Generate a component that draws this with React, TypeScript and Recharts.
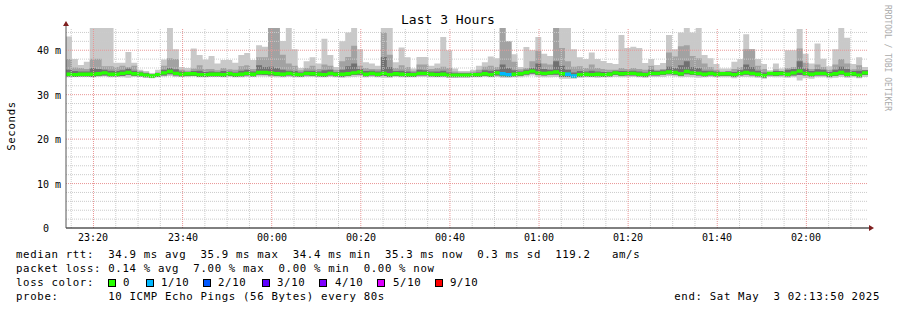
import React from 'react';
import { ComposedChart, Area, XAxis, YAxis, ReferenceLine, ReferenceDot } from 'recharts';

// ---------- data ----------
const START_TIME = '23:13:50';
const STEP_SECONDS = 80;
const timeLabels = ['23:20', '23:40', '00:00', '00:20', '00:40', '01:00', '01:20', '01:40', '02:00'];
const yTicks = [0, 10, 20, 30, 40];
const yTickLabels = ['0\u00a0\u00a0', '10 m', '20 m', '30 m', '40 m'];
const Y_MAX = 45;

// smoke: highest ping (ms)
const maxPing = [
  43.1, 38.0, 36.7, 37.4, 45, 45, 45, 45, 37.2, 37.2,
  39.6, 37.2, 35.6, 35.3, 34.8, 35.6, 37.9, 45, 40.2, 36.2,
  36.0, 40.4, 38.9, 37.9, 38.7, 37.0, 37.8, 37.8, 37.2, 38.9,
  39.4, 37.8, 41.1, 40.8, 45, 45, 42.1, 45, 40.2, 36.0,
  37.5, 38.4, 37.0, 42.6, 38.9, 36.2, 42.0, 44.0, 45, 40.2,
  37.3, 37.0, 36.5, 45, 45, 37.3, 40.6, 38.4, 35.9, 38.5,
  38.5, 36.5, 37.0, 43.0, 40.0, 35.9, 35.3, 35.3, 35.6, 36.5,
  37.3, 38.6, 38.2, 45, 42.0, 39.1, 36.2, 40.7, 40.0, 43.0,
  39.2, 38.7, 45, 45, 45, 40.2, 38.4, 38.0, 39.5, 38.0,
  37.6, 37.1, 36.9, 43.4, 40.5, 40.8, 40.5, 37.1, 38.0, 36.7,
  37.1, 43.4, 40.2, 44.0, 45, 44.0, 45, 38.9, 38.2, 36.9,
  35.9, 35.9, 37.4, 38.0, 43.6, 40.2, 38.0, 36.9, 35.5, 37.0,
  35.9, 40.0, 40.0, 44.8, 39.2, 37.0, 41.5, 38.1, 36.4, 40.2,
  45, 42.8, 36.9, 38.4, 36.2,
];

// smoke: upper edge of the middle (medium gray) pings
const upperMid = [
  38.0, 36.1, 36.0, 35.8, 38.1, 38.1, 36.4, 36.4, 36.2, 36.5,
  36.2, 36.5, 35.3, 35.0, 34.7, 35.0, 36.5, 38.2, 38.0, 35.6,
  35.4, 35.9, 36.6, 35.8, 35.8, 35.5, 36.0, 35.7, 35.6, 36.4,
  36.6, 35.8, 38.4, 38.4, 45, 45, 39.0, 37.0, 36.5, 35.5,
  36.0, 36.5, 35.8, 36.8, 36.5, 35.6, 37.5, 38.5, 41.0, 36.5,
  36.0, 35.8, 35.7, 44.0, 39.0, 36.0, 36.6, 36.2, 35.4, 36.8,
  36.8, 35.8, 36.0, 36.3, 36.0, 35.2, 35.0, 35.0, 35.2, 35.6,
  36.3, 36.5, 36.2, 45, 42.0, 37.4, 35.7, 36.0, 37.5, 39.9,
  37.0, 36.8, 45, 40.5, 37.5, 36.3, 36.4, 36.0, 36.8, 36.0,
  35.8, 35.6, 35.6, 36.0, 35.8, 36.0, 35.8, 35.6, 36.5, 35.6,
  35.8, 39.5, 38.6, 40.9, 41.1, 38.7, 38.2, 37.0, 36.2, 35.6,
  35.2, 35.3, 35.8, 36.2, 40.2, 40.2, 36.5, 35.8, 35.0, 35.7,
  35.3, 36.0, 36.2, 40.4, 37.2, 35.8, 36.8, 36.2, 35.6, 36.8,
  38.0, 37.0, 35.7, 36.6, 35.5,
];

// smoke: upper edge of the pings closest to the median (dark gray)
const upperDark = [
  35.6, 35.3, 35.2, 35.2, 36.0, 35.8, 35.6, 35.4, 35.3, 35.5,
  35.9, 35.4, 35.0, 34.8, 34.5, 34.9, 35.6, 36.0, 35.7, 35.2,
  35.1, 35.3, 35.4, 35.1, 35.2, 35.1, 35.3, 35.2, 35.0, 35.4,
  35.6, 35.2, 36.6, 36.2, 36.3, 36.0, 35.6, 35.4, 35.3, 35.0,
  35.4, 35.4, 35.2, 35.5, 35.6, 35.1, 35.6, 36.4, 37.0, 35.8,
  35.3, 35.4, 35.2, 38.5, 36.2, 35.3, 35.4, 35.2, 35.0, 35.6,
  35.5, 35.2, 35.2, 35.4, 35.0, 34.8, 34.8, 34.8, 34.9, 35.0,
  35.5, 35.4, 35.6, 36.8, 36.0, 35.5, 35.2, 35.6, 36.0, 37.0,
  35.8, 35.6, 37.5, 36.5, 35.6, 35.0, 35.3, 35.2, 35.4, 35.2,
  35.1, 35.1, 35.4, 35.3, 35.3, 35.4, 35.2, 35.0, 35.6, 35.3,
  35.5, 36.3, 36.0, 36.6, 37.5, 36.2, 36.0, 35.4, 35.4, 35.2,
  35.1, 35.2, 35.1, 35.5, 36.8, 36.2, 35.4, 35.0, 34.9, 35.3,
  35.3, 35.6, 35.8, 37.5, 35.9, 35.3, 35.7, 35.6, 35.1, 35.6,
  36.3, 35.8, 35.3, 35.4, 35.5,
];

// median rtt (ms)
const median = [
  34.6, 34.5, 34.6, 34.6, 34.6, 34.7, 34.9, 34.6, 34.6, 34.8,
  35.0, 34.7, 34.6, 34.4, 34.2, 34.5, 34.9, 35.2, 34.8, 34.6,
  34.7, 34.7, 34.5, 34.5, 34.6, 34.6, 34.5, 34.7, 34.5, 34.6,
  34.8, 34.6, 35.0, 35.0, 34.9, 34.7, 34.6, 34.8, 34.6, 34.5,
  34.8, 34.7, 34.6, 34.5, 34.8, 34.6, 34.6, 34.7, 34.9, 35.1,
  34.6, 34.8, 34.6, 34.8, 34.5, 34.7, 34.6, 34.5, 34.5, 34.8,
  34.8, 34.6, 34.5, 34.6, 34.4, 34.4, 34.4, 34.4, 34.5, 34.5,
  34.7, 34.5, 34.9, 34.7, 34.5, 34.6, 34.7, 35.0, 35.3, 34.9,
  34.8, 34.9, 35.1, 34.7, 34.6, 34.2, 34.5, 34.6, 34.5, 34.6,
  34.5, 34.6, 34.9, 34.7, 34.8, 34.8, 34.6, 34.5, 34.8, 34.8,
  34.9, 35.1, 35.0, 34.7, 35.2, 34.9, 34.8, 34.6, 34.8, 34.6,
  34.7, 34.7, 34.5, 34.8, 35.0, 34.8, 34.6, 34.3, 34.8, 34.7,
  34.8, 34.6, 34.9, 35.3, 34.8, 34.6, 34.8, 34.8, 34.5, 34.7,
  35.0, 34.6, 34.7, 34.4, 34.9,
];

// smoke: lower edge of the middle pings
const lowerMid = [
  34.1, 34.0, 34.1, 34.1, 34.0, 34.2, 34.3, 34.1, 34.1, 34.2,
  34.4, 34.2, 34.1, 33.9, 33.8, 34.0, 34.3, 34.6, 34.3, 34.1,
  34.2, 34.2, 34.0, 34.0, 34.1, 34.1, 34.0, 34.2, 34.0, 34.1,
  34.3, 34.1, 34.5, 34.4, 34.3, 34.2, 34.1, 34.3, 34.1, 34.0,
  34.3, 34.2, 34.1, 34.0, 34.3, 34.1, 34.0, 34.2, 34.4, 34.5,
  34.1, 34.3, 34.1, 34.2, 34.0, 34.2, 34.1, 34.0, 34.0, 34.3,
  34.3, 34.1, 34.0, 34.1, 33.9, 33.9, 33.9, 33.9, 34.0, 34.0,
  34.2, 34.0, 34.3, 34.1, 34.0, 34.1, 34.2, 34.5, 34.7, 34.4,
  34.3, 34.4, 34.5, 34.0, 34.0, 33.8, 34.0, 34.1, 34.0, 34.1,
  34.0, 34.1, 34.4, 34.2, 34.3, 34.3, 34.1, 34.0, 34.3, 34.3,
  34.4, 34.6, 34.5, 34.2, 34.6, 34.4, 34.3, 34.1, 34.3, 34.1,
  34.2, 34.2, 34.0, 34.3, 34.5, 34.3, 34.1, 33.8, 34.3, 34.2,
  34.3, 34.1, 34.3, 34.4, 34.3, 34.1, 34.3, 34.3, 34.0, 34.2,
  34.5, 34.1, 34.2, 33.9, 34.4,
];

// smoke: lowest ping (ms)
const minPing = [
  33.9, 34.0, 34.0, 34.0, 33.9, 34.0, 34.1, 33.9, 34.0, 33.9,
  33.8, 34.0, 34.0, 33.8, 33.7, 33.9, 34.1, 34.2, 34.0, 34.0,
  34.0, 34.1, 33.9, 33.9, 34.0, 34.0, 33.9, 34.0, 33.9, 33.9,
  34.0, 34.0, 34.1, 34.1, 34.0, 33.9, 33.9, 34.0, 33.9, 33.9,
  34.0, 34.0, 33.9, 33.9, 34.0, 33.9, 33.8, 33.9, 34.0, 34.1,
  33.9, 34.0, 33.9, 33.8, 33.8, 34.0, 33.9, 33.9, 33.9, 34.0,
  34.0, 33.9, 33.9, 33.9, 33.8, 33.8, 33.9, 33.9, 33.9, 33.9,
  34.0, 33.9, 34.0, 33.8, 33.8, 33.9, 33.9, 34.1, 34.3, 34.0,
  33.9, 33.9, 34.0, 33.6, 33.6, 33.6, 33.8, 33.9, 33.9, 33.8,
  33.9, 33.9, 34.0, 33.9, 33.9, 34.0, 33.9, 33.8, 34.0, 34.0,
  34.0, 34.2, 34.1, 33.9, 34.0, 33.9, 33.8, 33.9, 34.0, 33.9,
  33.9, 33.9, 33.7, 34.0, 34.0, 33.9, 33.8, 33.6, 34.0, 33.9,
  33.9, 33.8, 33.9, 33.2, 33.7, 33.6, 33.9, 33.9, 33.7, 33.8,
  34.0, 33.8, 33.9, 33.7, 34.0,
];

// packet loss (lost pings out of 10) at the steps where it was non-zero
const lossSteps = [73, 74, 84, 85];
const lossCounts = [1, 1, 1, 1];

const lossLevelColors = ['#26ff00', '#00b8ff', '#0059ff', '#5e00ff', '#7e00ff', '#dd00ff', '#ff0000'];
const lossLevelLabels = ['0', '1/10', '2/10', '3/10', '4/10', '5/10', '9/10'];

const statsRtt = ['34.9 ms avg', '35.9 ms max', '34.4 ms min', '35.3 ms now', '0.3 ms sd', '119.2', 'am/s'];
const statsLoss = ['0.14 % avg', '7.00 % max', '0.00 % min', '0.00 % now'];
const probeText = '10 ICMP Echo Pings (56 Bytes) every 80s';
const endText = 'end: Sat May  3 02:13:50 2025';
const titleText = 'Last 3 Hours';
const yAxisTitle = 'Seconds';
const watermark = 'RRDTOOL / TOBI OETIKER';

// ---------- derived ----------
const W = 897;
const H = 310;
const MED_HALF = 0.38; // half thickness of the median band (ms)
const MONO = '"DejaVu Sans Mono", "Liberation Mono", monospace';

const toSec = (s: string) => {
  const p = s.split(':').map(Number);
  return p[0] * 3600 + p[1] * 60 + (p[2] || 0);
};
const startSec = toSec(START_TIME);
const minutesFromStart = (label: string) =>
  ((((toSec(label) - startSec) % 86400) + 86400) % 86400) / 60;

const n = median.length;
const totalMinutes = (n * STEP_SECONDS) / 60;
const majorX = timeLabels.map(minutesFromStart);
const minorX: number[] = [];
for (let v = majorX[0] % 5; v < totalMinutes; v += 5) {
  if (!majorX.some((m) => Math.abs(m - v) < 1e-6)) minorX.push(v);
}
const minorY: number[] = [];
for (let v = 2; v < Y_MAX; v += 2) if (v % 10 !== 0) minorY.push(v);
const majorY = yTicks.filter((v) => v > 0);

const lossKeys = Array.from(new Set(lossCounts)).map((c) => `loss${c}`);

const rows: any[] = Array.from({ length: n + 1 }, (_, i) => {
  const j = Math.min(i, n - 1);
  const row: any = {
    t: (i * STEP_SECONDS) / 60,
    light: [minPing[j], maxPing[j]],
    mid: [lowerMid[j], upperMid[j]],
    dark: [lowerMid[j], upperDark[j]],
    med: [median[j] - MED_HALF, median[j] + MED_HALF],
  };
  lossKeys.forEach((k) => (row[k] = null));
  return row;
});
lossSteps.forEach((s, k) => {
  const key = `loss${lossCounts[k]}`;
  [s, s + 1].forEach((i) => {
    if (i <= n) rows[i][key] = rows[i].med;
  });
});

const line1 =
  'median rtt:  ' + statsRtt.slice(0, 5).join('  ') + '  ' + statsRtt[5] + '   ' + statsRtt[6];
const line2 = 'packet loss: ' + statsLoss.join('  ');
const line4 = 'probe:       ' + probeText;

const XTick = (props: any) => {
  const { x, y, payload } = props;
  const idx = majorX.findIndex((m) => Math.abs(m - payload.value) < 1e-6);
  return (
    <text x={Math.round(x)} y={Math.round(y) + 5} textAnchor="middle" fontFamily={MONO} fontSize={10} style={{ fill: '#000' }}>
      {idx >= 0 ? timeLabels[idx] : ''}
    </text>
  );
};

const YTick = (props: any) => {
  const { x, y, payload } = props;
  const idx = yTicks.indexOf(payload.value);
  return (
    <text x={Math.round(x) + 1} y={Math.round(y) + 4} textAnchor="end" fontFamily={MONO} fontSize={10} style={{ fill: '#000' }}>
      {idx >= 0 ? yTickLabels[idx] : ''}
    </text>
  );
};

const ArrowUp = (props: any) => {
  const { cx, cy } = props;
  return (
    <g>
      <line x1={cx} y1={cy} x2={cx} y2={cy - 4} stroke="#555" strokeWidth={1} />
      <polygon points={`${cx - 3},${cy - 2} ${cx + 3},${cy - 2} ${cx},${cy - 7}`} fill="#7f1f1f" />
    </g>
  );
};
const ArrowRight = (props: any) => {
  const { cx, cy } = props;
  return (
    <g>
      <line x1={cx} y1={cy} x2={cx + 2} y2={cy} stroke="#000" strokeWidth={1} />
      <polygon points={`${cx + 1},${cy - 3} ${cx + 1},${cy + 3} ${cx + 6},${cy}`} fill="#7f1f1f" />
    </g>
  );
};

const legendBoxX = [108, 146, 203, 262, 319, 377, 435];
const legendLabelX = [123, 161, 218, 277, 335, 393, 450];

const txt = (x: number, y: number, s: string, extra: any = {}) => (
  <text
    x={x}
    y={y}
    fontFamily={MONO}
    fontSize={10.7}
    letterSpacing={0.66}
    style={{ whiteSpace: 'pre', fill: '#000' }}
    {...extra}
  >
    {s}
  </text>
);

export default function App() {
  return (
    <div style={{ position: 'absolute', left: 0, top: 0, width: W, height: H, background: '#fff' }}>
      <ComposedChart
        width={W}
        height={H}
        data={rows}
        margin={{ top: 28, right: 29, bottom: 62, left: 0 }}
      >
        <XAxis
          dataKey="t"
          type="number"
          domain={[0, totalMinutes]}
          ticks={majorX}
          interval={0}
          height={20}
          tickLine={false}
          axisLine={{ stroke: '#000', strokeWidth: 1 }}
          tick={<XTick />}
          allowDataOverflow
        />
        <YAxis
          type="number"
          domain={[0, Y_MAX]}
          ticks={yTicks}
          interval={0}
          width={66}
          tickLine={false}
          tickSize={4}
          tickMargin={2}
          axisLine={{ stroke: '#555', strokeWidth: 1 }}
          tick={<YTick />}
          allowDataOverflow
        />
        <Area type="stepAfter" dataKey="light" stroke="none" fill="#c9c9c9" fillOpacity={1} isAnimationActive={false} dot={false} activeDot={false} />
        <Area type="stepAfter" dataKey="mid" stroke="none" fill="#a2a2a2" fillOpacity={1} isAnimationActive={false} dot={false} activeDot={false} />
        <Area type="stepAfter" dataKey="dark" stroke="none" fill="#707070" fillOpacity={1} isAnimationActive={false} dot={false} activeDot={false} />
        <Area type="stepAfter" dataKey="med" stroke="none" fill={lossLevelColors[0]} fillOpacity={1} isAnimationActive={false} dot={false} activeDot={false} />
        {lossKeys.map((k) => (
          <Area
            key={k}
            type="stepAfter"
            dataKey={k}
            stroke="none"
            fill={lossLevelColors[Number(k.replace('loss', ''))]}
            fillOpacity={1}
            connectNulls={false}
            isAnimationActive={false}
            dot={false}
            activeDot={false}
          />
        ))}
        {minorY.map((v) => (
          <ReferenceLine key={`my${v}`} y={v} stroke="#cbcbcb" strokeDasharray="1 1" />
        ))}
        {minorX.map((v) => (
          <ReferenceLine key={`mx${v}`} x={v} stroke="#cbcbcb" strokeDasharray="1 1" />
        ))}
        {majorY.map((v) => (
          <ReferenceLine key={`My${v}`} y={v} stroke="#e99696" strokeDasharray="1 1" />
        ))}
        {majorX.map((v) => (
          <ReferenceLine key={`Mx${v}`} x={v} stroke="#e99696" strokeDasharray="1 1" />
        ))}
        <ReferenceDot x={0} y={Y_MAX} r={0} ifOverflow="visible" shape={<ArrowUp />} />
        <ReferenceDot x={totalMinutes} y={0} r={0} ifOverflow="visible" shape={<ArrowRight />} />
      </ComposedChart>
      <svg
        width={W}
        height={H}
        style={{ position: 'absolute', left: 0, top: 0, pointerEvents: 'none' }}
      >
        <text x={448} y={24} textAnchor="middle" fontFamily={MONO} fontSize={13} style={{ fill: '#000' }}>
          {titleText}
        </text>
        <text
          x={15}
          y={126}
          textAnchor="middle"
          transform="rotate(-90 15 126)"
          fontFamily={MONO}
          fontSize={10.7}
          letterSpacing={0.66}
          style={{ fill: '#000' }}
        >
          {yAxisTitle}
        </text>
        <text
          x={885}
          y={5}
          transform="rotate(90 885 5)"
          fontFamily={MONO}
          fontSize={8}
          style={{ fill: '#aaaaaa' }}
        >
          {watermark}
        </text>

        {txt(16, 258, line1)}
        {txt(16, 272, line2)}

        {txt(16, 286, 'loss color:')}
        {lossLevelLabels.map((s, i) => (
          <g key={`c${i}`}>
            <rect x={legendBoxX[i] + 0.5} y={279.5} width={7} height={7} fill={lossLevelColors[i]} stroke="#000" strokeWidth={1} />
            {txt(legendLabelX[i], 286, s)}
          </g>
        ))}

        {txt(16, 300, line4)}
        {txt(880, 300, endText, { textAnchor: 'end' })}
      </svg>
    </div>
  );
}
